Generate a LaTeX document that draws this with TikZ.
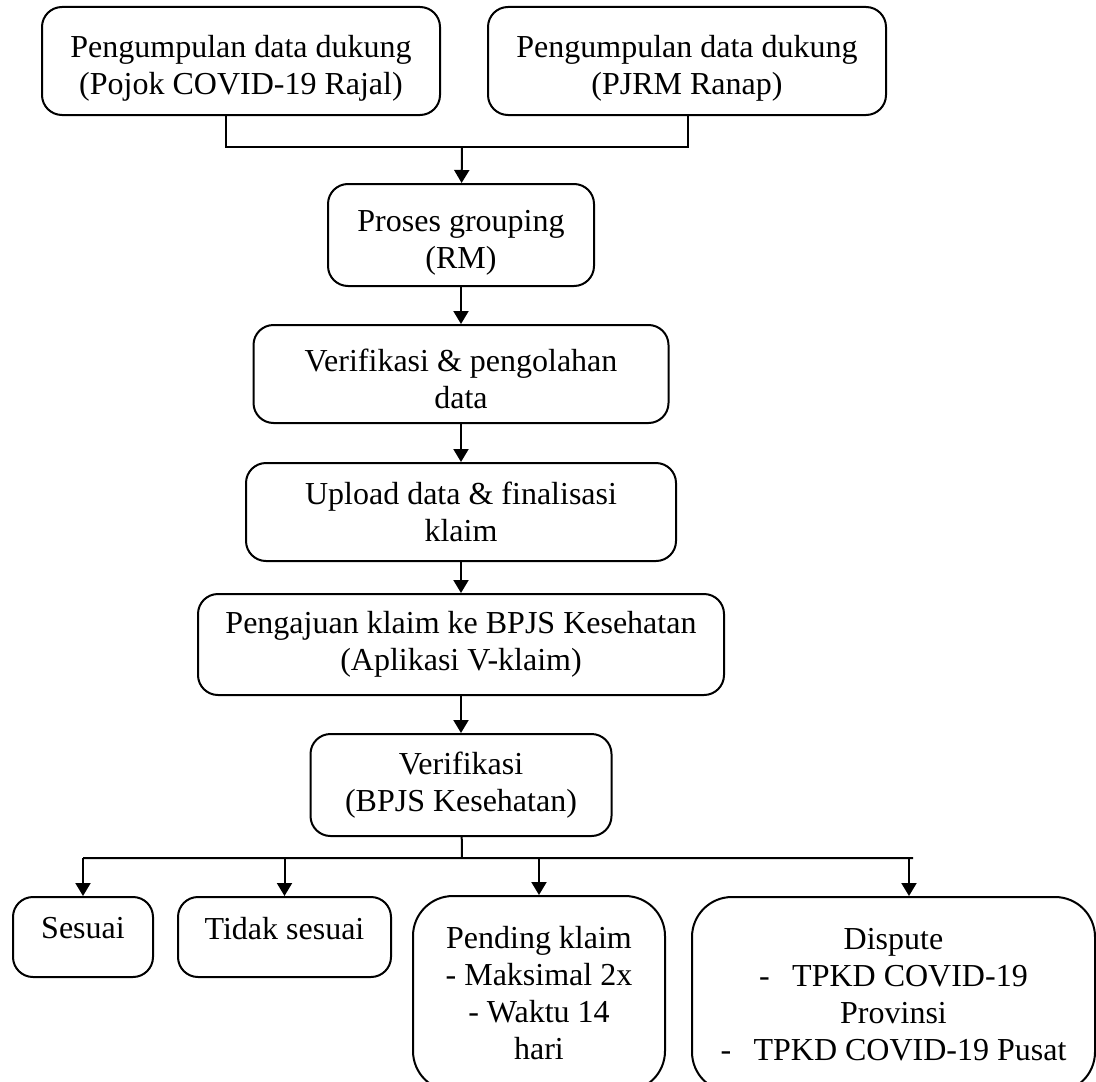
\documentclass[tikz,border=0pt]{standalone}
\usepackage{fontspec}
\setmainfont{Liberation Serif}
\usetikzlibrary{arrows.meta, positioning}
\tikzset{%
    block/.style = {draw, rectangle, rounded corners=10pt, line width=1pt,
        inner sep=2pt, align=center, font=\fontsize{16}{18.5}\selectfont},
    bigblock/.style = {block, rounded corners=20pt},
    result/.style = {block, minimum height=40pt, text depth=9pt},
    link/.style = {line width=1pt, -{Triangle[width=7.5pt, length=6.5pt]}}
}

\begin{document}
\begin{tikzpicture}[x=0.5pt, y=-0.5pt, node distance=18.5pt]
    \useasboundingbox (0,0) rectangle (1096,1081);
    \node [block, minimum width=199pt, minimum height=54pt, text height=36.5pt] (rajal) at (241,61) {Pengumpulan data dukung\\(Pojok COVID-19 Rajal)};
    \node [block, minimum width=199pt, minimum height=54pt, text height=36.5pt, right=23pt of rajal] (ranap) {Pengumpulan data dukung\\(PJRM Ranap)};
    \coordinate (jl) at (226,147);
    \coordinate (jm) at (462,147);
    \coordinate (jr) at (688,147);
    \node [block, minimum width=133pt, minimum height=51pt, text height=36.5pt] (group) at (461,235) {Proses grouping\\(RM)};
    \node [block, minimum width=207.5pt, minimum height=49pt, text height=34.5pt, below=of group] (olah) {Verifikasi \& pengolahan\\data};
    \node [block, minimum width=215pt, minimum height=49pt, below=19pt of olah] (upload) {Upload data \& finalisasi\\klaim};
    \node [block, minimum width=263pt, minimum height=50.5pt, below=15.5pt of upload] (ajukan) {Pengajuan klaim ke BPJS Kesehatan\\(Aplikasi V-klaim)};
    \node [block, minimum width=150.5pt, minimum height=51pt, below=of ajukan] (verif) {Verifikasi\\(BPJS Kesehatan)};
    % hasil verifikasi
    \coordinate (fan) at (462,858);
    \coordinate (fanl) at (83,858);
    \coordinate (fanr) at (913,858);
    \coordinate (fand) at (909,858);
    \node [result, minimum width=70pt, anchor=north] (sesuai) at (83,896) {Sesuai};
    \node [result, minimum width=106.5pt, right=11.5pt of sesuai] (tidak) {Tidak sesuai};
    \node [bigblock, minimum width=126pt, minimum height=97.5pt, anchor=north] (pending) at (539,895) {Pending klaim\\- Maksimal 2x\\- Waktu 14\\hari};
    \node [bigblock, minimum width=201.5pt, minimum height=97.5pt, anchor=north] (dispute) at (893.5,896) {Dispute\\-\hspace{0.7em}TPKD COVID-19\\Provinsi\\-\hspace{0.7em}TPKD COVID-19 Pusat};
    \draw [line width=1pt] (rajal.south -| jl) |- (jr) -- (ranap.south -| jr);
    \path [link]
    (jm) edge (group)
    (group) edge (olah) (olah) edge (upload) (upload) edge (ajukan) (ajukan) edge (verif);
    \draw [line width=1pt] (verif) -- (fan) (fanl) -- (fanr);
    \path [link]
    (fanl) edge (sesuai) (fanl -| tidak) edge (tidak)
    (fanl -| pending) edge (pending) (fand) edge (fand |- dispute.north);
\end{tikzpicture}
\end{document}
